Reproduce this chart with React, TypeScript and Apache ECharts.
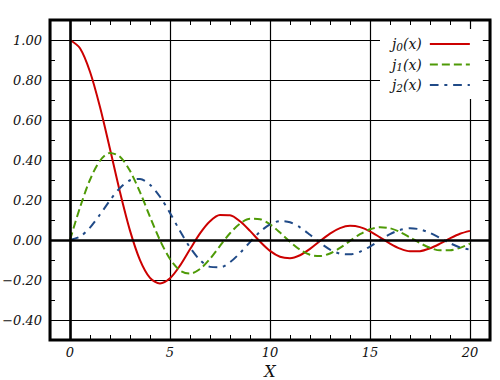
import React, { useEffect, useRef } from "react";
import * as echarts from "echarts";

const xs = [0, 0.5, 1, 1.5, 2, 2.5, 3, 3.5, 4, 4.5, 5, 5.5, 6, 6.5, 7, 7.5, 8, 8.5, 9, 9.5, 10, 10.5, 11, 11.5, 12, 12.5, 13, 13.5, 14, 14.5, 15, 15.5, 16, 16.5, 17, 17.5, 18, 18.5, 19, 19.5, 20];
const j0 = [1, 0.9589, 0.8415, 0.665, 0.4546, 0.2394, 0.047, -0.1002, -0.1892, -0.2172, -0.1918, -0.1283, -0.0466, 0.0331, 0.0939, 0.1251, 0.1237, 0.0939, 0.0458, -0.0079, -0.0544, -0.0838, -0.0909, -0.0761, -0.0447, -0.0053, 0.0323, 0.0595, 0.0708, 0.0645, 0.0434, 0.0133, -0.018, -0.0431, -0.0566, -0.0558, -0.0417, -0.0185, 0.0079, 0.0311, 0.0456];
const j1 = [0, 0.1626, 0.3012, 0.3962, 0.4354, 0.4162, 0.3457, 0.2389, 0.1161, -0.0014, -0.0951, -0.1522, -0.1678, -0.1452, -0.0943, -0.0295, 0.0337, 0.0819, 0.1063, 0.1041, 0.0785, 0.0373, -0.0087, -0.0486, -0.0741, -0.0802, -0.0673, -0.0397, -0.0047, 0.0289, 0.0535, 0.064, 0.0587, 0.04, 0.0129, -0.0157, -0.039, -0.0518, -0.0516, -0.0392, -0.0181];
const j2 = [0, 0.0167, 0.0621, 0.1274, 0.1985, 0.26, 0.2987, 0.305, 0.2763, 0.2163, 0.1347, 0.0453, -0.0373, -0.1001, -0.1343, -0.1369, -0.1111, -0.065, -0.0104, 0.0408, 0.078, 0.0945, 0.0885, 0.0634, 0.0262, -0.0139, -0.0478, -0.0683, -0.0718, -0.0585, -0.0327, -0.0009, 0.029, 0.0504, 0.0589, 0.0531, 0.0352, 0.0101, -0.016, -0.0371, -0.0483];

const seriesNames = ["j0(x)", "j1(x)", "j2(x)"];
const seriesValues = [j0, j1, j2];
const seriesColors = ["#cc0000", "#4e9a06", "#204a87"];
const seriesDash: any[] = ["solid", [8, 4], [8.7, 5.8, 3, 5.8]];

const FONT = "DejaVu Serif";

export default function App() {
  const ref = useRef<HTMLDivElement>(null);
  useEffect(() => {
    document.body.style.margin = "0";
    const chart = echarts.init(ref.current!, null, { renderer: "svg" });
    const labelStyle = {
      fontFamily: FONT,
      fontStyle: "italic" as const,
      fontSize: 13,
      color: "#111",
    };
    const minorAxis = (pos: string, extra: any) => ({
      type: "value",
      position: pos,
      axisLine: { show: false, onZero: false },
      axisTick: { show: true, inside: true, length: 5, lineStyle: { color: "#000", width: 1 } },
      axisLabel: { show: false },
      splitLine: { show: false },
      ...extra,
    });
    const option: any = {
      animation: false,
      grid: {
        left: 50,
        right: 10,
        top: 20,
        bottom: 40,
        show: true,
        borderColor: "#000",
        borderWidth: 3,
        backgroundColor: "transparent",
        outerBoundsMode: "none",
        containLabel: false,
      },
      legend: {
        data: seriesNames,
        orient: "vertical",
        align: "right",
        left: 380,
        top: 29,
        padding: [8, 12, 6, 12],
        itemGap: 5.5,
        itemWidth: 40,
        itemHeight: 14,
        backgroundColor: "#fff",
        itemStyle: { color: "transparent", borderWidth: 0, opacity: 0 },
        formatter: (name: string) => `{a|j}{s|${name[1]}}{a|(x)}`,
        textStyle: {
          padding: [0, 3, 0, 0],
          rich: {
            a: { fontFamily: FONT, fontStyle: "italic", fontSize: 14, color: "#111", lineHeight: 16 },
            s: { fontFamily: FONT, fontStyle: "italic", fontSize: 10.5, color: "#111", lineHeight: 8, verticalAlign: "bottom" },
          },
        },
      },
      xAxis: [
        {
          type: "value",
          min: -1,
          max: 21,
          splitNumber: 4,
          position: "bottom",
          axisLine: { show: false, onZero: false },
          axisTick: { show: false },
          axisLabel: { ...labelStyle, margin: 6, showMinLabel: false, showMaxLabel: false, formatter: (v: number) => String(v) },
          splitLine: { show: true, lineStyle: { color: "#000", width: 1.2 } },
          name: "X",
          nameLocation: "middle",
          nameGap: 21,
          nameTextStyle: { fontFamily: FONT, fontStyle: "italic", fontSize: 16, color: "#111" },
        },
        minorAxis("bottom", { min: -1, max: 21, interval: 1 }),
        minorAxis("top", { min: -1, max: 21, interval: 1 }),
      ],
      yAxis: [
        {
          type: "value",
          min: -0.5,
          max: 1.1,
          splitNumber: 8,
          position: "left",
          axisLine: { show: false, onZero: false },
          axisTick: { show: false },
          axisLabel: {
            ...labelStyle,
            margin: 8,
            showMinLabel: false,
            showMaxLabel: false,
            formatter: (v: number) => v.toFixed(2).replace("-", "\u2212"),
          },
          splitLine: { show: true, lineStyle: { color: "#000", width: 1.2 } },
        },
        minorAxis("left", { min: -0.5, max: 1.1, interval: 0.1 }),
        minorAxis("right", { min: -0.5, max: 1.1, interval: 0.1 }),
      ],
      series: [
        {
          type: "line",
          name: "zero",
          data: [],
          z: 1,
          silent: true,
          markLine: {
            silent: true,
            symbol: "none",
            label: { show: false },
            lineStyle: { color: "#000", width: 2.6, type: "solid" },
            data: [{ xAxis: 0 }, { yAxis: 0 }],
          },
        },
        ...seriesNames.map((name, i) => ({
          type: "line",
          name,
          z: 3,
          showSymbol: false,
          symbol: "none",
          smooth: 0.3,
          data: xs.map((x, k) => [x, seriesValues[i][k]]),
          lineStyle: { color: seriesColors[i], width: 2, type: seriesDash[i] },
          itemStyle: { color: seriesColors[i] },
        })),
      ],
    };
    chart.setOption(option);
    return () => chart.dispose();
  }, []);
  return <div ref={ref} style={{ width: 500, height: 380 }} />;
}
